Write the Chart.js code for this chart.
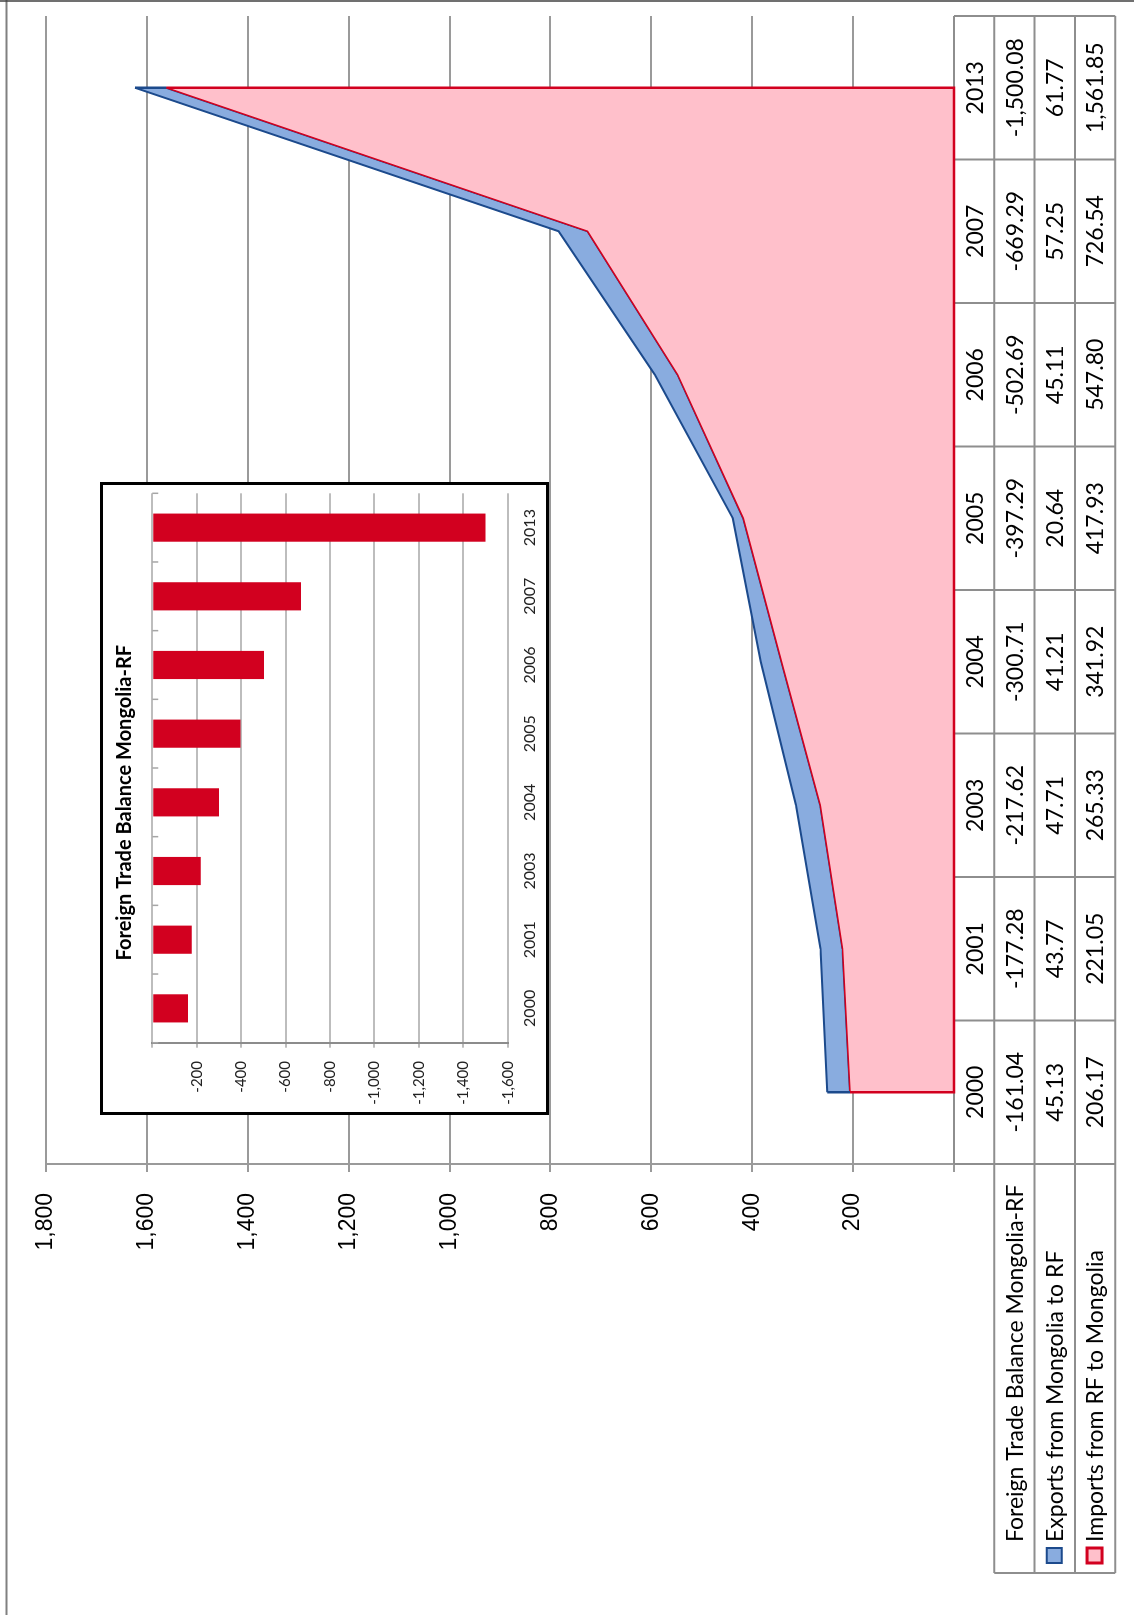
<!DOCTYPE html>
<html>
<head>
<meta charset="utf-8">
<script src="https://cdn.jsdelivr.net/npm/chart.js@4.4.1/dist/chart.umd.min.js"></script>
<style>
  html, body { margin: 0; padding: 0; background: #fff; }
  body { width: 1134px; height: 1615px; overflow: hidden; position: relative; }
  /* the chart is drawn landscape and turned a quarter left */
  #wrap { position: absolute; left: 0; top: 0; width: 1615px; height: 1134px;
          transform-origin: 0 0; transform: translate(0px, 1615px) rotate(-90deg); background: #fff; }
  #main { position: absolute; left: 0; top: 0; }
  #inset { position: absolute; left: 500px; top: 100px; width: 633px; height: 449px;
           box-sizing: border-box; border: 3px solid #000; background: #fff; }
  #inset canvas { position: absolute; left: 0; top: 0; }
</style>
</head>
<body>
<div id="wrap">
  <canvas id="main" width="1615" height="1134"></canvas>
  <div id="inset"><canvas id="bars" width="627" height="443"></canvas></div>
</div>
<script>
const years = ["2000", "2001", "2003", "2004", "2005", "2006", "2007", "2013"];
const balance = [-161.04, -177.28, -217.62, -300.71, -397.29, -502.69, -669.29, -1500.08];
const exportsRF = [45.13, 43.77, 47.71, 41.21, 20.64, 45.11, 57.25, 61.77];
const importsRF = [206.17, 221.05, 265.33, 341.92, 417.93, 547.80, 726.54, 1561.85];
const rowNames = ["Foreign Trade Balance Mongolia-RF", "Exports from Mongolia to RF", "Imports from RF to Mongolia"];
const insetTitle = "Foreign Trade Balance Mongolia-RF";

const PINK = "#ffc0cb";
const RED = "#d2001f";
const BLUE = "#89acdf";
const NAVY = "#1c4a8c";
const GRID = "#9a9a9a";
const TABLE = "#8e8e8e";

const fmt2 = (v) => v.toLocaleString("en-US", { minimumFractionDigits: 2, maximumFractionDigits: 2 });
const fmt0 = (v) => (v === 0 ? "" : v.toLocaleString("en-US"));

// data table under the area chart, plus the closed outline of the areas
const tablePlugin = {
  id: "dataTable",
  afterDatasetDraw(chart, args) {
    if (args.index !== 1) return;
    const pts = chart.getDatasetMeta(0).data;
    const ctx = chart.ctx;
    ctx.save();
    ctx.strokeStyle = NAVY;
    ctx.lineWidth = 2;
    ctx.beginPath();
    pts.forEach((p, i) => (i ? ctx.lineTo(p.x, p.y) : ctx.moveTo(p.x, p.y)));
    ctx.stroke();
    ctx.restore();
  },
  afterDraw(chart) {
    const ctx = chart.ctx;
    const ca = chart.chartArea;
    const xs = chart.scales.x;
    const n = years.length;
    const half = (xs.getPixelForValue(1) - xs.getPixelForValue(0)) / 2;
    const edges = [];
    for (let i = 0; i < n; i++) edges.push(xs.getPixelForValue(i) - half);
    edges.push(xs.getPixelForValue(n - 1) + half);
    const top = ca.bottom;
    const rowH = 40.3;
    const headLeft = 42;

    ctx.save();
    ctx.strokeStyle = TABLE;
    ctx.lineWidth = 2;
    ctx.beginPath();
    edges.forEach((x) => { ctx.moveTo(x, top); ctx.lineTo(x, top + 4 * rowH); });
    for (let k = 0; k <= 4; k++) {
      ctx.moveTo(k === 0 ? edges[0] : headLeft, top + k * rowH);
      ctx.lineTo(edges[n], top + k * rowH);
    }
    ctx.moveTo(headLeft, top + rowH);
    ctx.lineTo(headLeft, top + 4 * rowH);
    ctx.stroke();

    ctx.fillStyle = "#000";
    ctx.font = "23px Lato";
    ctx.textBaseline = "middle";
    ctx.textAlign = "center";
    const rows = [years, balance.map(fmt2), exportsRF.map(fmt2), importsRF.map(fmt2)];
    rows.forEach((row, r) => {
      row.forEach((t, i) => ctx.fillText(t, xs.getPixelForValue(i), top + (r + 0.5) * rowH + 1));
    });
    ctx.textAlign = "left";
    rowNames.forEach((t, r) => ctx.fillText(t, 73, top + (r + 1.5) * rowH + 1));

    // legend keys
    const ky1 = top + 2.5 * rowH - 8;
    ctx.fillStyle = BLUE; ctx.fillRect(52, ky1, 15, 15);
    ctx.strokeStyle = NAVY; ctx.lineWidth = 2; ctx.strokeRect(52, ky1, 15, 15);
    const ky2 = top + 3.5 * rowH - 8;
    ctx.fillStyle = PINK; ctx.fillRect(52, ky2, 15, 15);
    ctx.strokeStyle = RED; ctx.lineWidth = 3; ctx.strokeRect(52, ky2, 15, 15);

    // end edges of the two areas
    const m0 = chart.getDatasetMeta(0).data;
    const m1 = chart.getDatasetMeta(1).data;
    const y0 = chart.scales.y.getPixelForValue(0);
    const a = m0[0], b = m0[n - 1];
    ctx.strokeStyle = RED;
    ctx.lineWidth = 2.5;
    ctx.beginPath();
    ctx.moveTo(a.x, a.y); ctx.lineTo(a.x, y0); ctx.lineTo(b.x, y0); ctx.lineTo(b.x, b.y);
    ctx.stroke();
    ctx.strokeStyle = NAVY;
    ctx.lineWidth = 2.5;
    ctx.beginPath();
    [0, n - 1].forEach((i) => { ctx.moveTo(m0[i].x, m0[i].y); ctx.lineTo(m1[i].x, m1[i].y); });
    ctx.stroke();

    // outer frame
    ctx.strokeStyle = "#808080";
    ctx.lineWidth = 2;
    ctx.beginPath(); ctx.moveTo(0, 6.5); ctx.lineTo(1615, 6.5); ctx.stroke();
    ctx.strokeStyle = "#404040";
    ctx.lineWidth = 1.5;
    ctx.beginPath(); ctx.moveTo(1614, 0); ctx.lineTo(1614, 1134); ctx.stroke();
    ctx.restore();
  },
};

new Chart(document.getElementById("main"), {
  type: "line",
  data: {
    labels: years,
    datasets: [
      { label: rowNames[2], data: importsRF, fill: "origin", backgroundColor: PINK,
        borderColor: RED, borderWidth: 1.5, pointRadius: 0, tension: 0 },
      { label: rowNames[1], data: exportsRF, fill: "-1", backgroundColor: BLUE,
        borderColor: NAVY, borderWidth: 2, pointRadius: 0, tension: 0 },
    ],
  },
  options: {
    responsive: false,
    animation: false,
    layout: { padding: { left: 0, top: 46, right: 16, bottom: 0 } },
    plugins: { legend: { display: false }, tooltip: { enabled: false } },
    scales: {
      x: {
        offset: true,
        ticks: { display: false },
        grid: { display: false, drawTicks: false },
        border: { display: false },
        afterFit: (s) => { s.height = 180; },
      },
      y: {
        stacked: true,
        min: 0,
        max: 1800,
        ticks: { stepSize: 200, callback: fmt0, color: "#000",
                 font: { family: "Liberation Sans", size: 23 }, padding: 21 },
        grid: { color: GRID, lineWidth: 2, tickLength: 8 },
        border: { color: GRID, width: 2 },
        afterFit: (s) => { s.width = 451; },
      },
    },
  },
  plugins: [tablePlugin],
});

// little category ticks hanging from the zero line of the inset
const zeroTicks = {
  id: "zeroTicks",
  afterDatasetsDraw(chart) {
    const xs = chart.scales.x;
    const y0 = chart.scales.y.getPixelForValue(0);
    const n = years.length;
    const half = (xs.getPixelForValue(1) - xs.getPixelForValue(0)) / 2;
    const ctx = chart.ctx;
    ctx.save();
    ctx.strokeStyle = "#a6a6a6";
    ctx.lineWidth = 1.5;
    ctx.beginPath();
    for (let i = 0; i <= n; i++) {
      const x = xs.getPixelForValue(Math.min(i, n - 1)) + (i === n ? half : -half);
      ctx.moveTo(x, y0);
      ctx.lineTo(x, y0 + 6);
    }
    ctx.stroke();
    ctx.restore();
  },
};

new Chart(document.getElementById("bars"), {
  type: "bar",
  data: {
    labels: years,
    datasets: [{ data: balance, backgroundColor: RED, barPercentage: 0.41, categoryPercentage: 1 }],
  },
  options: {
    responsive: false,
    animation: false,
    layout: { padding: { left: 0, top: 0, right: 8.3, bottom: 0 } },
    plugins: {
      legend: { display: false },
      tooltip: { enabled: false },
      title: { display: true, text: insetTitle, color: "#000",
               font: { family: "Lato", size: 20, weight: "bold" }, padding: { top: 10, bottom: 15.3 } },
    },
    scales: {
      x: {
        grid: { display: false, drawTicks: false },
        border: { display: false },
        ticks: { color: "#222", font: { family: "Lato", size: 16 }, padding: 13, maxRotation: 0 },
        afterFit: (s) => { s.height = 38.3; },
      },
      y: {
        min: -1600,
        max: 0,
        ticks: { stepSize: 200, callback: fmt0, color: "#222",
                 font: { family: "Lato", size: 15 }, padding: 13.3 },
        grid: { color: "#bdbdbd", lineWidth: 2, tickLength: 5 },
        border: { color: "#8c8c8c", width: 2 },
        afterFit: (s) => { s.width = 69.3; },
      },
    },
  },
  plugins: [zeroTicks],
});
</script>
</body>
</html>
